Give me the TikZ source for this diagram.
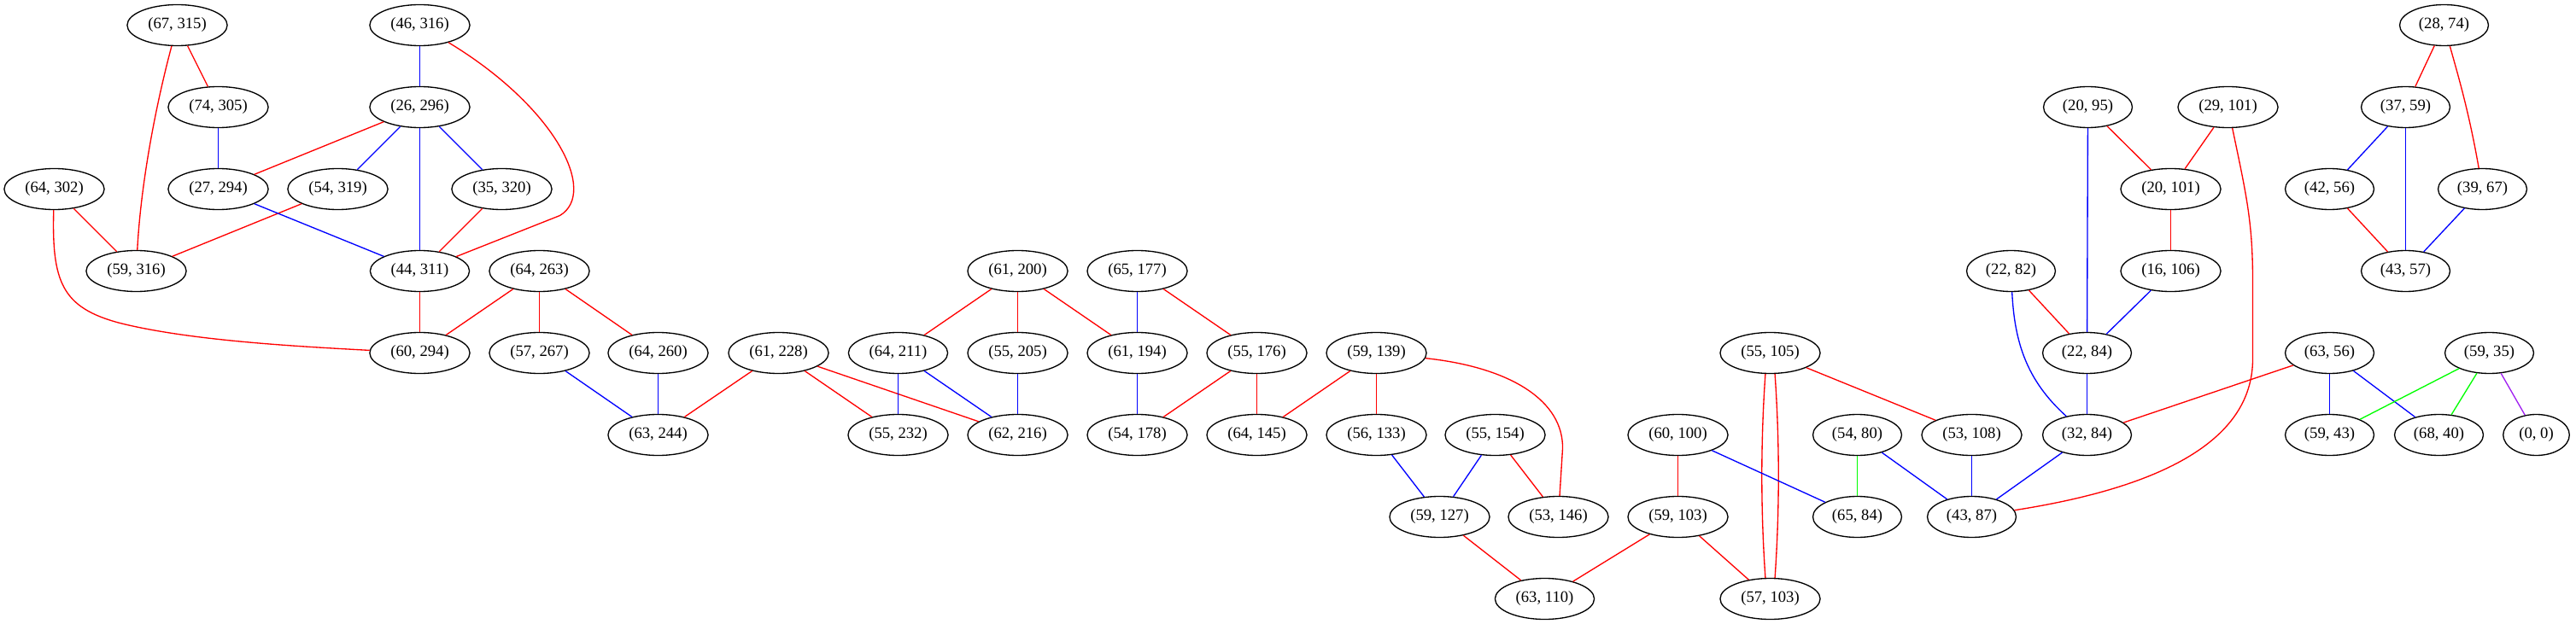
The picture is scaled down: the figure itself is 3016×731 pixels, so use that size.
\documentclass[tikz,border=0pt]{standalone}
\usepackage{fontspec}
\setmainfont{Liberation Serif}
\usetikzlibrary{shapes.geometric,calc}
\definecolor{gvred}{RGB}{255,0,0}
\definecolor{gvblue}{RGB}{0,0,255}
\definecolor{gvgreen}{RGB}{0,255,0}
\definecolor{gvpurple}{RGB}{160,32,240}
\begin{document}
\begin{tikzpicture}[x=0.75pt,y=-0.75pt,
  vtx/.style={draw,ellipse,line width=1pt,inner xsep=5.4pt,inner ysep=0pt,minimum height=36pt,font=\fontsize{14}{16}\selectfont},
  re/.style={draw=gvred,line width=1pt},
  be/.style={draw=gvblue,line width=1pt},
  ge/.style={draw=gvgreen,line width=1pt},
  pe/.style={draw=gvpurple,line width=1pt}]
\useasboundingbox (0,0) rectangle (3016,731);
\begin{scope}[xshift=0.375pt,yshift=-0.375pt]
% row 0
\node[vtx] (n67x315) at (207,29) {(67, 315)};
\node[vtx] (n46x316) at (491,29) {(46, 316)};
\node[vtx] (n28x74) at (2861,29) {(28, 74)};
% row 1
\node[vtx] (n74x305) at (255,125) {(74, 305)};
\node[vtx] (n26x296) at (491,125) {(26, 296)};
\node[vtx] (n20x95) at (2444,125) {(20, 95)};
\node[vtx] (n29x101) at (2608,125) {(29, 101)};
\node[vtx] (n37x59) at (2816,125) {(37, 59)};
% row 2
\node[vtx] (n64x302) at (63,221) {(64, 302)};
\node[vtx] (n27x294) at (255,221) {(27, 294)};
\node[vtx] (n54x319) at (395,221) {(54, 319)};
\node[vtx] (n35x320) at (587,221) {(35, 320)};
\node[vtx] (n20x101) at (2541,221) {(20, 101)};
\node[vtx] (n42x56) at (2727,221) {(42, 56)};
\node[vtx] (n39x67) at (2906,221) {(39, 67)};
% row 3
\node[vtx] (n59x316) at (159,317) {(59, 316)};
\node[vtx] (n44x311) at (491,317) {(44, 311)};
\node[vtx] (n64x263) at (631,317) {(64, 263)};
\node[vtx] (n61x200) at (1191,317) {(61, 200)};
\node[vtx] (n65x177) at (1331,317) {(65, 177)};
\node[vtx] (n22x82) at (2354,317) {(22, 82)};
\node[vtx] (n16x106) at (2541,317) {(16, 106)};
\node[vtx] (n43x57) at (2816,317) {(43, 57)};
% row 4
\node[vtx] (n60x294) at (491,413) {(60, 294)};
\node[vtx] (n57x267) at (631,413) {(57, 267)};
\node[vtx] (n64x260) at (770,413) {(64, 260)};
\node[vtx] (n61x228) at (911,413) {(61, 228)};
\node[vtx] (n64x211) at (1051,413) {(64, 211)};
\node[vtx] (n55x205) at (1191,413) {(55, 205)};
\node[vtx] (n61x194) at (1331,413) {(61, 194)};
\node[vtx] (n55x176) at (1471,413) {(55, 176)};
\node[vtx] (n59x139) at (1611,413) {(59, 139)};
\node[vtx] (n55x105) at (2072,413) {(55, 105)};
\node[vtx] (n22x84) at (2443,413) {(22, 84)};
\node[vtx] (n63x56) at (2727,413) {(63, 56)};
\node[vtx] (n59x35) at (2914,413) {(59, 35)};
% row 5
\node[vtx] (n63x244) at (770,509) {(63, 244)};
\node[vtx] (n55x232) at (1051,509) {(55, 232)};
\node[vtx] (n62x216) at (1191,509) {(62, 216)};
\node[vtx] (n54x178) at (1331,509) {(54, 178)};
\node[vtx] (n64x145) at (1471,509) {(64, 145)};
\node[vtx] (n56x133) at (1611,509) {(56, 133)};
\node[vtx] (n55x154) at (1750,509) {(55, 154)};
\node[vtx] (n60x100) at (1964,509) {(60, 100)};
\node[vtx] (n54x80) at (2174,509) {(54, 80)};
\node[vtx] (n53x108) at (2308,509) {(53, 108)};
\node[vtx] (n32x84) at (2443,509) {(32, 84)};
\node[vtx] (n59x43) at (2727,509) {(59, 43)};
\node[vtx] (n68x40) at (2855,509) {(68, 40)};
\node[vtx] (n0x0) at (2969,509) {(0, 0)};
% row 6
\node[vtx] (n59x127) at (1685,605) {(59, 127)};
\node[vtx] (n53x146) at (1824,605) {(53, 146)};
\node[vtx] (n59x103) at (1964,605) {(59, 103)};
\node[vtx] (n65x84) at (2174,605) {(65, 84)};
\node[vtx] (n43x87) at (2308,605) {(43, 87)};
% row 7
\node[vtx] (n63x110) at (1808,701) {(63, 110)};
\node[vtx] (n57x103) at (2072,701) {(57, 103)};

% red edges
\draw[re] (n67x315) -- (n74x305);
\draw[re] (n67x315) .. controls (180,130) and (164,220) .. (n59x316);
\draw[re] (n46x316) .. controls (650,125) and (700,225) .. (655,252) -- (n44x311);
\draw[re] (n26x296) -- (n27x294);
\draw[re] (n54x319) -- (n59x316);
\draw[re] (n35x320) -- (n44x311);
\draw[re] (n64x302) -- (n59x316);
\draw[re] (n64x302) .. controls (60,330) and (72,360) .. (140,378) .. controls (220,398) and (340,405) .. (n60x294);
\draw[re] (n44x311) -- (n60x294);
\draw[re] (n64x263) -- (n60x294);
\draw[re] (n64x263) -- (n57x267);
\draw[re] (n64x263) -- (n64x260);
\draw[re] (n61x228) -- (n63x244);
\draw[re] (n61x228) -- (n55x232);
\draw[re] (n61x228) -- (n62x216);
\draw[re] (n61x200) -- (n64x211);
\draw[re] (n61x200) -- (n55x205);
\draw[re] (n61x200) -- (n61x194);
\draw[re] (n65x177) -- (n55x176);
\draw[re] (n55x176) -- (n54x178);
\draw[re] (n55x176) -- (n64x145);
\draw[re] (n59x139) -- (n64x145);
\draw[re] (n59x139) -- (n56x133);
\draw[re] (n59x139) .. controls (1770,430) and (1830,470) .. (1829,525) -- (n53x146);
\draw[re] (n55x154) -- (n53x146);
\draw[re] (n59x127) -- (n63x110);
\draw[re] (n60x100) -- (n59x103);
\draw[re] (n59x103) -- (n63x110);
\draw[re] (n59x103) -- (n57x103);
\draw[re] ([xshift=-4.2pt]n55x105.south) .. controls +(-5.5,80) and +(-5.5,-80) .. ([xshift=-4.2pt]n57x103.north);
\draw[re] ([xshift=4.2pt]n55x105.south) .. controls +(5.5,80) and +(5.5,-80) .. ([xshift=4.2pt]n57x103.north);
\draw[re] (n55x105) -- (n53x108);
\draw[re] (n29x101) .. controls (2630,230) and (2637,260) .. (2637,330) -- (2637,420) .. controls (2637,520) and (2520,572) .. (n43x87);
\draw[re] (n63x56) -- (n32x84);
\draw[re] (n22x82) -- (n22x84);
\draw[re] (n20x95) -- (n20x101);
\draw[re] (n29x101) -- (n20x101);
\draw[re] (n20x101) -- (n16x106);
\draw[re] (n28x74) -- (n37x59);
\draw[re] (n28x74) .. controls (2878,90) and (2890,130) .. (n39x67);
\draw[re] (n42x56) -- (n43x57);

% blue edges
\draw[be] (n46x316) -- (n26x296);
\draw[be] (n74x305) -- (n27x294);
\draw[be] (n26x296) -- (n54x319);
\draw[be] (n26x296) -- (n44x311);
\draw[be] (n26x296) -- (n35x320);
\draw[be] (n27x294) -- (n44x311);
\draw[be] (n57x267) -- (n63x244);
\draw[be] (n64x260) -- (n63x244);
\draw[be] (n64x211) -- (n55x232);
\draw[be] (n64x211) -- (n62x216);
\draw[be] (n55x205) -- (n62x216);
\draw[be] (n65x177) -- (n61x194);
\draw[be] (n61x194) -- (n54x178);
\draw[be] (n56x133) -- (n59x127);
\draw[be] (n55x154) -- (n59x127);
\draw[be] (n60x100) -- (n65x84);
\draw[be] (n54x80) -- (n43x87);
\draw[be] (n53x108) -- (n43x87);
\draw[be] (n32x84) -- (n43x87);
\draw[be] (n22x82) .. controls (2358,400) and (2372,445) .. (n32x84);
\draw[be] (n22x84) -- (n32x84);
\draw[be] (n16x106) -- (n22x84);
\draw[be] (n20x95) -- (n22x84);
\draw[be] (n37x59) -- (n42x56);
\draw[be] (n37x59) -- (n43x57);
\draw[be] (n39x67) -- (n43x57);
\draw[be] (n63x56) -- (n59x43);
\draw[be] (n63x56) -- (n68x40);

% green edges
\draw[ge] (n54x80) -- (n65x84);
\draw[ge] (n59x35) -- (n59x43);
\draw[ge] (n59x35) -- (n68x40);

% purple edge
\draw[pe] (n59x35) -- (n0x0);
\end{scope}
\end{tikzpicture}
\end{document}
